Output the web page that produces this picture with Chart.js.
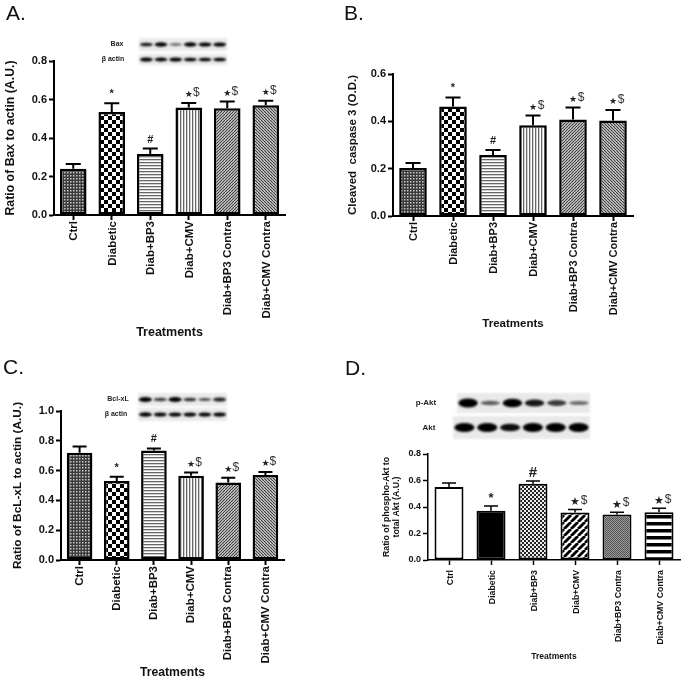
<!DOCTYPE html>
<html>
<head>
<meta charset="utf-8">
<title>Treatments</title>
<script src="https://cdn.jsdelivr.net/npm/chart.js@4/dist/chart.umd.min.js"></script>
<style>
  html, body { margin: 0; padding: 0; background: #fff; }
  #page { position: relative; width: 689px; height: 680px; overflow: hidden; }
  #page canvas { position: absolute; }
  .letter { position: absolute; font: 21px "Liberation Sans", Arial, sans-serif; color: #111; line-height: 24px; }
</style>
</head>
<body>
<div id="page">
  <canvas id="chartA" style="left:0;top:0"></canvas>
  <canvas id="chartB" style="left:340px;top:0"></canvas>
  <canvas id="chartC" style="left:0;top:340px"></canvas>
  <canvas id="chartD" style="left:340px;top:340px"></canvas>
  <div class="letter" style="left:6px;top:1px">A.</div>
  <div class="letter" style="left:344px;top:1px">B.</div>
  <div class="letter" style="left:3px;top:355px">C.</div>
  <div class="letter" style="left:345px;top:356px">D.</div>
</div>
<script>
const categories = ["Ctrl", "Diabetic", "Diab+BP3", "Diab+CMV", "Diab+BP3 Contra", "Diab+CMV Contra"];

// bar height and top of the error bar
const baxValues = [0.24, 0.535, 0.317, 0.559, 0.554, 0.57];
const baxUpper = [0.265, 0.58, 0.345, 0.582, 0.59, 0.594];
const caspaseValues = [0.203, 0.463, 0.258, 0.383, 0.408, 0.403];
const caspaseUpper = [0.224, 0.501, 0.279, 0.425, 0.458, 0.448];
const bclValues = [0.72, 0.531, 0.735, 0.565, 0.52, 0.57];
const bclUpper = [0.762, 0.558, 0.749, 0.587, 0.552, 0.59];
const aktValues = [0.551, 0.371, 0.576, 0.358, 0.343, 0.361];
const aktUpper = [0.581, 0.408, 0.596, 0.381, 0.361, 0.391];

const yTicksAD = [0, 0.2, 0.4, 0.6, 0.8];
const yTicksB = [0, 0.2, 0.4, 0.6];
const yTicksC = [0, 0.2, 0.4, 0.6, 0.8, 1.0];

const sigMarks = ["", "*", "#", "★$", "★$", "★$"];

// band strength for each lane of the blots
const baxBand = [0.8, 1, 0.55, 1, 0.9, 0.95];
const bactinBandA = [1, 0.95, 1, 0.9, 0.9, 0.9];
const bclBand = [1, 0.65, 1, 0.7, 0.6, 0.75];
const bactinBandC = [1, 0.9, 0.95, 0.9, 0.9, 0.95];
const pAktBand = [1, 0.5, 0.95, 0.8, 0.65, 0.45];
const aktBand = [1, 1, 0.85, 1, 1, 1];

const FONT = '"Liberation Sans", Arial, sans-serif';

function makePattern(size, bg, paint) {
    const c = document.createElement("canvas");
    c.width = size;
    c.height = size;
    const g = c.getContext("2d");
    g.fillStyle = bg;
    g.fillRect(0, 0, size, size);
    paint(g);
    return g.createPattern(c, "repeat");
}

function checker(cell, color, bg) {
    return makePattern(cell * 2, bg, g => {
        g.fillStyle = color;
        g.fillRect(0, 0, cell, cell);
        g.fillRect(cell, cell, cell, cell);
    });
}

function hLines(period, thick, color) {
    return makePattern(period, "#fff", g => {
        g.fillStyle = color;
        g.fillRect(0, 0, period, thick);
    });
}

function vLines(period, thick, color) {
    return makePattern(period, "#fff", g => {
        g.fillStyle = color;
        g.fillRect(0, 0, thick, period);
    });
}

// dir 1 = "/", dir -1 = "\"
function diagonal(period, thick, dir, color, bg) {
    return makePattern(period, bg, g => {
        g.strokeStyle = color;
        g.lineWidth = thick;
        for (let i = -period; i <= period * 2; i += period) {
            g.beginPath();
            if (dir > 0) {
                g.moveTo(i, period);
                g.lineTo(i + period, 0);
            } else {
                g.moveTo(i, 0);
                g.lineTo(i + period, period);
            }
            g.stroke();
        }
    });
}

function dots(color, bg) {
    return makePattern(6, bg, g => {
        g.fillStyle = color;
        g.fillRect(1, 1, 1.5, 1.5);
        g.fillRect(4, 4, 1.5, 1.5);
        g.fillRect(4, 1, 1.5, 1.5);
        g.fillRect(1, 4, 1.5, 1.5);
    });
}

const fillsABC = [
    dots("#c8c8c8", "#3a3a3a"),
    checker(4, "#000", "#fff"),
    hLines(3, 1.3, "#666"),
    vLines(3, 1.3, "#666"),
    diagonal(3, 1.2, 1, "#3c3c3c", "#e0e0e0"),
    diagonal(3, 1.2, -1, "#3c3c3c", "#e0e0e0"),
];
const fillsD = [
    "#fff",
    "#000",
    checker(2, "#222", "#eee"),
    diagonal(7, 2.8, 1, "#000", "#fff"),
    checker(1, "#555", "#999"),
    hLines(7, 3.5, "#000"),
];

// error bars, significance marks and the western blot strips
const extrasPlugin = {
    id: "extras",
    afterDatasetsDraw(chart, args, opts) {
        const ctx = chart.ctx;
        const x = chart.scales.x;
        const y = chart.scales.y;
        ctx.save();
        ctx.strokeStyle = "#000";
        ctx.lineWidth = opts.errWidth;
        opts.upper.forEach((top, i) => {
            const px = x.getPixelForValue(i);
            const py = y.getPixelForValue(top);
            ctx.beginPath();
            ctx.moveTo(px, y.getPixelForValue(opts.values[i]));
            ctx.lineTo(px, py);
            ctx.moveTo(px - opts.capHalf, py);
            ctx.lineTo(px + opts.capHalf, py);
            ctx.stroke();

            const mark = opts.marks[i];
            if (!mark) return;
            ctx.textAlign = "center";
            ctx.textBaseline = "middle";
            ctx.fillStyle = "#222";
            if (mark[0] === "★") {
                ctx.font = `${opts.starSize}px 'DejaVu Sans'`;
            } else if (mark[0] === "#") {
                ctx.font = `bold ${opts.hashSize}px ${FONT}`;
            } else {
                ctx.font = `bold ${opts.asteriskSize}px ${FONT}`;
            }
            ctx.fillText(mark[0], px, py - opts.markGap + (mark[0] === "★" ? 1 : 0));
            if (mark[1]) {
                ctx.fillStyle = "#333";
                ctx.font = `${opts.dollarSize}px ${FONT}`;
                ctx.fillText(mark[1], px + opts.dollarShift, py - opts.markGap - 1);
            }
        });
        ctx.restore();
    },
    afterDraw(chart, args, opts) {
        const ctx = chart.ctx;
        (opts.blots || []).forEach(b => {
            ctx.save();
            ctx.fillStyle = "#e9e9e9";
            ctx.filter = "blur(1px)";
            ctx.fillRect(b.x, b.y, b.w, b.h);
            ctx.fillStyle = "#000";
            const lane = b.w / b.bands.length;
            b.bands.forEach((s, i) => {
                ctx.globalAlpha = Math.min(1, s + 0.1);
                ctx.beginPath();
                ctx.ellipse(b.x + lane * (i + 0.5), b.y + b.h / 2, lane * 0.44, b.bandH * s, 0, 0, Math.PI * 2);
                ctx.fill();
            });
            ctx.restore();
            ctx.save();
            ctx.fillStyle = "#222";
            ctx.font = b.font;
            ctx.textAlign = "center";
            ctx.textBaseline = "middle";
            ctx.fillText(b.label, b.labelX, b.y + b.h / 2);
            ctx.restore();
        });
    },
};

function makeChart(id, p) {
    const canvas = document.getElementById(id);
    canvas.style.width = p.width + "px";
    canvas.style.height = "340px";
    canvas.width = p.width;
    canvas.height = 340;
    return new Chart(canvas, {
        type: "bar",
        data: {
            labels: categories,
            datasets: [{
                data: p.values,
                backgroundColor: p.fills,
                borderColor: "#000",
                borderWidth: p.barBorder,
                borderSkipped: false,
                barPercentage: 0.69,
                categoryPercentage: 1,
            }],
        },
        plugins: [extrasPlugin],
        options: {
            responsive: false,
            animation: false,
            layout: { padding: { left: 0, top: p.top, right: p.width - p.right, bottom: 0 } },
            plugins: {
                legend: { display: false },
                tooltip: { enabled: false },
                extras: {
                    values: p.values,
                    upper: p.upper,
                    marks: p.marks,
                    blots: p.blots,
                    errWidth: p.errWidth,
                    capHalf: p.capHalf,
                    markGap: p.markGap,
                    hashSize: p.hashSize,
                    asteriskSize: p.asteriskSize,
                    starSize: p.starSize,
                    dollarSize: p.dollarSize,
                    dollarShift: p.dollarShift,
                },
            },
            scales: {
                x: {
                    afterFit(s) { s.height = 340 - p.bottom; },
                    grid: { offset: false, drawOnChartArea: false, tickLength: 5, tickWidth: p.axisWidth, tickColor: "#000" },
                    border: { color: "#000", width: p.axisWidth },
                    ticks: {
                        autoSkip: false,
                        minRotation: 90,
                        maxRotation: 90,
                        color: "#111",
                        padding: p.xPad,
                        labelOffset: p.xShift,
                        font: { family: FONT, weight: "bold", size: p.xFont },
                    },
                    title: {
                        display: true,
                        text: "Treatments",
                        color: "#111",
                        font: { family: FONT, weight: "bold", size: p.xTitleFont },
                        padding: { top: 0, bottom: p.xTitleGap },
                    },
                },
                y: {
                    min: 0,
                    max: p.yMax,
                    afterFit(s) { s.width = p.left; },
                    afterBuildTicks(s) { s.ticks = p.yTicks.map(v => ({ value: v })); },
                    grid: { drawOnChartArea: false, tickLength: 5, tickWidth: p.axisWidth, tickColor: "#000" },
                    border: { color: "#000", width: p.axisWidth },
                    ticks: {
                        color: "#111",
                        padding: 2,
                        font: { family: FONT, weight: "bold", size: p.yFont },
                        callback: v => v.toFixed(1),
                    },
                    title: {
                        display: true,
                        text: p.yTitle,
                        color: "#111",
                        font: { family: FONT, weight: "bold", size: p.yTitleFont },
                        padding: { top: p.yTitleGap, bottom: 0 },
                    },
                },
            },
        },
    });
}

makeChart("chartA", {
    width: 340, left: 54, right: 285, top: 61, bottom: 215,
    values: baxValues, upper: baxUpper, marks: sigMarks, fills: fillsABC,
    yMax: 0.8, yTicks: yTicksAD, yTitle: "Ratio of Bax to actin (A.U.)",
    xFont: 11.5, yFont: 11, xTitleFont: 12.5, yTitleFont: 12.3, xTitleGap: 0, yTitleGap: 3, xPad: 1, xShift: 1,
    barBorder: 2.5, axisWidth: 2, errWidth: 2, capHalf: 7.5, markGap: 9,
    hashSize: 11, asteriskSize: 11, starSize: 9, dollarSize: 12, dollarShift: 7.5,
    blots: [
        { x: 139, y: 38, w: 88, h: 13, bands: baxBand, bandH: 2.2, label: "Bax", labelX: 117, font: `bold 7px ${FONT}` },
        { x: 139, y: 54, w: 88, h: 11, bands: bactinBandA, bandH: 2, label: "β actin", labelX: 113, font: `bold 7px ${FONT}` },
    ],
});

makeChart("chartB", {
    width: 349, left: 53, right: 293, top: 74, bottom: 216,
    values: caspaseValues, upper: caspaseUpper, marks: sigMarks, fills: fillsABC,
    yMax: 0.6, yTicks: yTicksB, yTitle: "Cleaved  caspase 3 (O.D.)",
    xFont: 11, yFont: 11, xTitleFont: 11.5, yTitleFont: 11.5, xTitleGap: 9, yTitleGap: 6, xPad: 1, xShift: 1,
    barBorder: 2.5, axisWidth: 2, errWidth: 2, capHalf: 7.5, markGap: 9,
    hashSize: 11, asteriskSize: 11, starSize: 9, dollarSize: 12, dollarShift: 8,
    blots: [],
});

makeChart("chartC", {
    width: 340, left: 61, right: 284, top: 71, bottom: 220,
    values: bclValues, upper: bclUpper, marks: sigMarks, fills: fillsABC,
    yMax: 1.0, yTicks: yTicksC, yTitle: "Ratio of BcL-xL to actin (A.U.)",
    xFont: 11.5, yFont: 11, xTitleFont: 12.2, yTitleFont: 11.8, xTitleGap: 0, yTitleGap: 11, xPad: 1, xShift: 0,
    barBorder: 2.5, axisWidth: 2, errWidth: 2, capHalf: 7, markGap: 9,
    hashSize: 11, asteriskSize: 11, starSize: 9, dollarSize: 12, dollarShift: 7.5,
    blots: [
        { x: 138, y: 53, w: 89, h: 13, bands: bclBand, bandH: 2.6, label: "Bcl-xL", labelX: 118, font: `bold 7px ${FONT}` },
        { x: 138, y: 68, w: 89, h: 13, bands: bactinBandC, bandH: 2.2, label: "β actin", labelX: 116, font: `bold 7px ${FONT}` },
    ],
});

makeChart("chartD", {
    width: 349, left: 88, right: 340, top: 114, bottom: 220,
    values: aktValues, upper: aktUpper, marks: sigMarks, fills: fillsD,
    yMax: 0.8, yTicks: yTicksAD, yTitle: ["Ratio of phospho-Akt to", "total Akt (A.U.)"],
    xFont: 8.8, yFont: 9, xTitleFont: 8.5, yTitleFont: 8.8, xTitleGap: 18, yTitleGap: 41, xPad: 5, xShift: 2,
    barBorder: 2, axisWidth: 1.5, errWidth: 1.5, capHalf: 7, markGap: 8,
    hashSize: 15, asteriskSize: 13, starSize: 11, dollarSize: 12, dollarShift: 9,
    blots: [
        { x: 117, y: 53, w: 133, h: 20, bands: pAktBand, bandH: 4.5, label: "p-Akt", labelX: 86, font: `bold 8px ${FONT}` },
        { x: 113, y: 76, w: 137, h: 23, bands: aktBand, bandH: 4.5, label: "Akt", labelX: 89, font: `bold 8px ${FONT}` },
    ],
});
</script>
</body>
</html>
